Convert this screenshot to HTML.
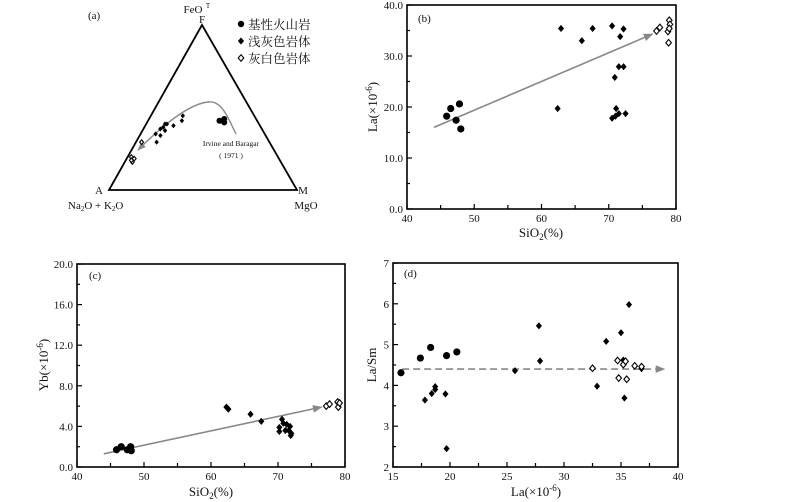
<!DOCTYPE html>
<html><head><meta charset="utf-8"><style>
html,body{margin:0;padding:0;background:#fff}
svg{display:block;font-family:"Liberation Serif","Noto Serif CJK SC",serif}
</style></head><body>
<svg id="root" width="800" height="502" viewBox="0 0 800 502" xmlns="http://www.w3.org/2000/svg">
<defs>
<marker id="ah" viewBox="0 0 10 10" refX="9" refY="5" markerWidth="6" markerHeight="6" orient="auto"><path d="M0,1 L10,5 L0,9 z" fill="#888"/></marker>
</defs>
</svg>
<script>
// ---- Panel (a) ternary data: [F fraction, M fraction]
const aBasalt=[[0.42,0.38],[0.43,0.40],[0.41,0.41],[0.42,0.40]];
const aLightGrey=[[0.34,0.08],[0.37,0.09],[0.40,0.10],[0.39,0.15],[0.45,0.17],[0.42,0.18],[0.29,0.11],[0.33,0.11],[0.38,0.10],[0.40,0.11],[0.36,0.12]];
const aGreyWhite=[[0.20,0.02],[0.19,0.04],[0.17,0.04],[0.29,0.03],[0.18,0.03]];
// ---- Panel (b) SiO2 vs La
const bBasalt=[[45.9,18.2],[46.5,19.7],[47.3,17.4],[47.8,20.6],[48.0,15.7]];
const bLightGrey=[[62.9,35.4],[66.0,33.0],[67.6,35.4],[70.5,35.9],[72.2,35.3],[71.7,33.8],[71.5,27.9],[72.2,27.9],[70.9,25.8],[62.4,19.7],[71.1,19.7],[70.5,17.8],[71.0,18.2],[71.5,18.7],[72.5,18.7]];
const bGreyWhite=[[77.1,34.9],[77.6,35.6],[79.0,37.0],[79.1,36.2],[78.8,34.8],[79.0,35.4],[78.9,32.6]];
const bTrend=[[44,16],[76.5,34.3]];
// ---- Panel (c) SiO2 vs Yb
const cBasalt=[[45.9,1.7],[46.6,2.0],[47.5,1.7],[48.0,2.0],[48.1,1.6]];
const cLightGrey=[[62.3,5.9],[62.6,5.7],[65.9,5.2],[67.5,4.5],[70.6,4.7],[70.2,3.9],[70.2,3.5],[70.8,4.3],[71.3,4.2],[71.1,3.6],[71.8,4.0],[72.0,3.3],[71.9,3.1],[71.6,3.6]];
const cGreyWhite=[[77.2,6.0],[77.7,6.2],[78.9,6.4],[79.0,5.9],[79.2,6.3]];
const cTrend=[[44,1.3],[76.5,5.9]];
// ---- Panel (d) La vs La/Sm
const dBasalt=[[15.7,4.31],[17.4,4.67],[18.3,4.93],[19.7,4.73],[20.6,4.82]];
const dLightGrey=[[17.8,3.64],[18.4,3.80],[18.7,3.97],[18.7,3.90],[19.6,3.79],[19.7,2.45],[25.7,4.36],[27.8,5.46],[27.9,4.60],[32.9,3.98],[33.7,5.08],[35.0,5.29],[35.2,4.62],[35.3,3.69],[35.7,5.98],[36.8,4.41]];
const dGreyWhite=[[32.5,4.42],[34.7,4.61],[35.2,4.51],[35.4,4.59],[34.8,4.18],[35.5,4.15],[36.2,4.48],[36.8,4.46]];
const dTrend=[[15.8,4.4],[38.8,4.4]];
// tick labels
const bYTicks=["0.0","10.0","20.0","30.0","40.0"];
const cYTicks=["0.0","4.0","8.0","12.0","16.0","20.0"];
const sioXTicks=["40","50","60","70","80"];
const dXTicks=["15","20","25","30","35","40"];
const dYTicks=["2","3","4","5","6","7"];

const NS="http://www.w3.org/2000/svg";
const root=document.getElementById('root');
function mk(tag,at,parent){const e=document.createElementNS(NS,tag);for(const k in at)e.setAttribute(k,at[k]);(parent||root).appendChild(e);return e;}
function txt(s,x,y,size,anchor,parent){const t=mk('text',{x:x,y:y,'font-size':size,'text-anchor':anchor||'start',fill:'#111'},parent);t.textContent=s;return t;}
function circle(g,x,y,r){const e=mk('circle',{cx:x,cy:y,r:r,fill:'#000'},g);}
function diamond(g,x,y,s,open){const e=mk('path',{d:`M${x},${y-s}L${x+s*0.85},${y}L${x},${y+s}L${x-s*0.85},${y}Z`,fill:open?'#fff':'#000',stroke:'#000','stroke-width':open?1.1:0.5},g);}

function panel(name,L,R,T,B,xmin,xmax,ymin,ymax,xt,yt,xminor,yminor){
  const g=mk('g',{});
  
  
  const sx=v=>L+(v-xmin)/(xmax-xmin)*(R-L), sy=v=>B-(v-ymin)/(ymax-ymin)*(B-T);
  const fr=mk('rect',{x:L,y:T,width:R-L,height:B-T,fill:'none',stroke:'#000','stroke-width':1.6},g);
  
  
  const nx=xt.length-1;
  for(let i=0;i<=nx*xminor;i++){const v=xmin+(xmax-xmin)*i/(nx*xminor);const x=sx(v);const len=i%xminor==0?5:4;mk('line',{x1:x,y1:B,x2:x,y2:B-len,stroke:'#000','stroke-width':1.2},g);}
  xt.forEach((s,i)=>{const t=txt(s,sx(xmin+(xmax-xmin)*i/nx),B+13,11,'middle',g);});
  const ny=yt.length-1;
  for(let i=0;i<=ny*yminor;i++){const v=ymin+(ymax-ymin)*i/(ny*yminor);const y=sy(v);const len=i%yminor==0?5:3;mk('line',{x1:L,y1:y,x2:L+len,y2:y,stroke:'#000','stroke-width':1.2},g);}
  yt.forEach((s,i)=>{const t=txt(s,L-4,sy(ymin+(ymax-ymin)*i/ny)+4,11,'end',g);});
  return {g,sx,sy};
}
function plotSets(p,bas,lg,gw,r,s){
  bas.forEach(d=>circle(p.g,p.sx(d[0]),p.sy(d[1]),r));
  lg.forEach(d=>diamond(p.g,p.sx(d[0]),p.sy(d[1]),s,false));
  gw.forEach(d=>diamond(p.g,p.sx(d[0]),p.sy(d[1]),s,true));
}
function trend(p,t,dash){const e=mk('line',{x1:p.sx(t[0][0]),y1:p.sy(t[0][1]),x2:p.sx(t[1][0]),y2:p.sy(t[1][1]),stroke:'#888','stroke-width':1.6,'marker-end':'url(#ah)'},p.g);if(dash)e.setAttribute('stroke-dasharray','7,4');}

// ===== Panel (a) =====
const ga=mk('g',{});


const F=[202,25],A=[109,190],M=[297,190];
const tri=mk('path',{d:`M${F[0]},${F[1]}L${A[0]},${A[1]}L${M[0]},${M[1]}Z`,fill:'none',stroke:'#000','stroke-width':1.8},ga);


const tp=(f,m)=>{const a=1-f-m;return [a*A[0]+f*F[0]+m*M[0],a*A[1]+f*F[1]+m*M[1]];};
const cur=mk('path',{d:'M236,134 C228,118 222,100 208,102 C188,104 160,128 138,150',fill:'none',stroke:'#888','stroke-width':1.4,'marker-end':'url(#ah)'},ga);


aBasalt.forEach(d=>{const p=tp(d[0],d[1]);circle(ga,p[0],p[1],3);});
aLightGrey.forEach(d=>{const p=tp(d[0],d[1]);diamond(ga,p[0],p[1],2.3,false);});
aGreyWhite.forEach(d=>{const p=tp(d[0],d[1]);diamond(ga,p[0],p[1],2.3,true);});
txt('(a)',88,19,11,'start',ga);
const fe=txt('FeO',193,13,11,'middle',ga);
txt('T',208,8,7,'middle',ga);
txt('F',202,23,11,'middle',ga);
txt('A',99,194,11,'middle',ga);
txt('M',303,194,11,'middle',ga);
const na=mk('text',{x:68,y:209,'font-size':11,fill:'#111'},ga);
na.innerHTML='Na<tspan font-size="7" dy="2">2</tspan><tspan dy="-2">O + K</tspan><tspan font-size="7" dy="2">2</tspan><tspan dy="-2">O</tspan>';
txt('MgO',306,209,11,'middle',ga);
txt('Irvine and Baragar',231,146,7.5,'middle',ga);
txt('( 1971 )',231,158,7.5,'middle',ga);
// legend
const lg=mk('g',{},ga);


circle(lg,241,24,3.2);diamond(lg,241,41,3.3,false);diamond(lg,241,58,3.3,true);
txt('基性火山岩',248,29,12.5,'start',lg);txt('浅灰色岩体',248,46,12.5,'start',lg);txt('灰白色岩体',248,63,12.5,'start',lg);

// ===== Panel (b) =====
const pb=panel('panel-b-sio2-la',407,676,5,209,40,80,0,40,sioXTicks,bYTicks,2,2);
trend(pb,bTrend,false);
plotSets(pb,bBasalt,bLightGrey,bGreyWhite,3.6,3.3);
txt('(b)',418,22,11,'start',pb.g);
const bx=mk('text',{x:541,y:237,'font-size':13,'text-anchor':'middle',fill:'#111'},pb.g);
bx.innerHTML='SiO<tspan font-size="9" dy="3">2</tspan><tspan dy="-3">(%)</tspan>';

const by=mk('text',{x:0,y:0,'font-size':13,'text-anchor':'middle',fill:'#111',transform:'translate(377,107) rotate(-90)'},pb.g);
by.innerHTML='La(×10<tspan font-size="9" dy="-5">-6</tspan><tspan dy="5">)</tspan>';


// ===== Panel (c) =====
const pc=panel('panel-c-sio2-yb',77,345,264,467,40,80,0,20,sioXTicks,cYTicks,2,2);
trend(pc,cTrend,false);
plotSets(pc,cBasalt,cLightGrey,cGreyWhite,3.6,3.3);
txt('(c)',89,279,11,'start',pc.g);
const cx=mk('text',{x:211,y:496,'font-size':13,'text-anchor':'middle',fill:'#111'},pc.g);
cx.innerHTML='SiO<tspan font-size="9" dy="3">2</tspan><tspan dy="-3">(%)</tspan>';

const cy=mk('text',{x:0,y:0,'font-size':13,'text-anchor':'middle',fill:'#111',transform:'translate(48,365) rotate(-90)'},pc.g);
cy.innerHTML='Yb(×10<tspan font-size="9" dy="-5">-6</tspan><tspan dy="5">)</tspan>';


// ===== Panel (d) =====
const pd=panel('panel-d-la-lasm',393,678,263,467,15,40,2,7,dXTicks,dYTicks,2,2);
trend(pd,dTrend,true);
plotSets(pd,dBasalt,dLightGrey,dGreyWhite,3.6,3.3);
txt('(d)',404,277,11,'start',pd.g);
const dx=mk('text',{x:536,y:496,'font-size':13,'text-anchor':'middle',fill:'#111'},pd.g);
dx.innerHTML='La(×10<tspan font-size="9" dy="-5">-6</tspan><tspan dy="5">)</tspan>';

const dy=mk('text',{x:0,y:0,'font-size':13,'text-anchor':'middle',fill:'#111',transform:'translate(376,365) rotate(-90)'},pd.g);
dy.textContent='La/Sm';

</script>
</body></html>
